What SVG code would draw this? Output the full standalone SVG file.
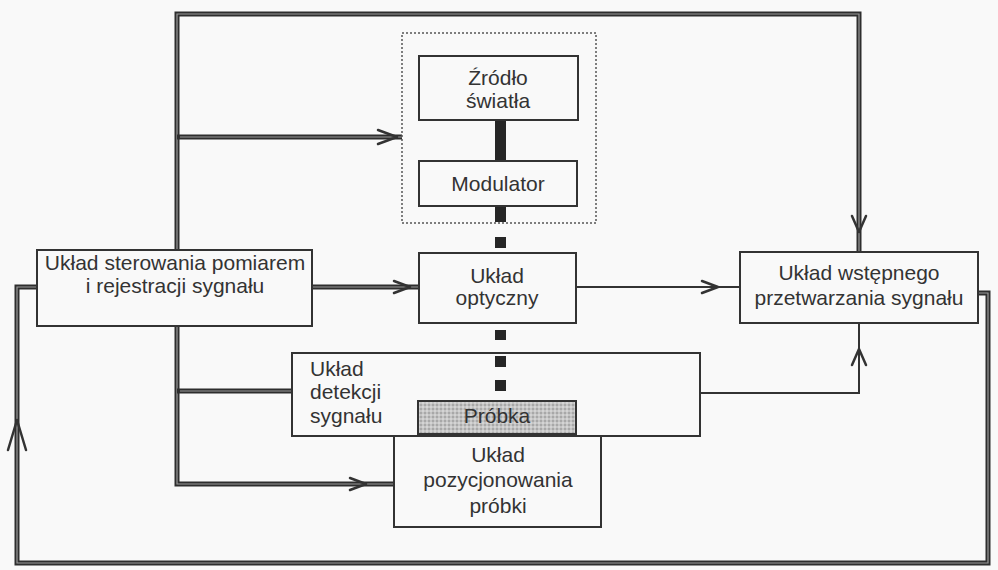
<svg xmlns="http://www.w3.org/2000/svg" width="998" height="570" viewBox="0 0 998 570">
<style>
.box{fill:none;stroke:#333;stroke-width:2}
.dash{fill:none;stroke:#555;stroke-width:1.5;stroke-dasharray:2 2}
.t{font-family:"Liberation Sans",Arial,sans-serif;font-size:21px;fill:#333;text-anchor:middle}
.tl{font-family:"Liberation Sans",Arial,sans-serif;font-size:21px;fill:#333;text-anchor:start}
.dbl{fill:none;stroke:#2e2e2e;stroke-width:5}
.dblin{fill:none;stroke:#9a9a9a;stroke-width:1.2}
.thin{fill:none;stroke:#333;stroke-width:2}
.arr{fill:none;stroke:#333;stroke-width:2.5;stroke-linecap:round;stroke-linejoin:round}
.blk{fill:#262626}
</style>
<defs>
<pattern id="dots" width="4" height="4" patternUnits="userSpaceOnUse">
<rect width="4" height="4" fill="#c4c4c4"/>
<rect width="2" height="2" fill="#a8a8a8"/>
<rect x="2" y="2" width="2" height="2" fill="#d4d4d4"/>
</pattern>
</defs>
<rect width="998" height="570" fill="#f9f9f9"/>
<g id="connectors">
<path class="dbl" d="M177,250 V14 H859 V252"/>
<path class="dblin" d="M177,250 V14 H859 V252"/>
<path class="dbl" d="M177,137 H402"/>
<path class="dblin" d="M180,137 H402"/>
<path class="dbl" d="M978,293 H988 V563 H17 V287 H37"/>
<path class="dblin" d="M978,293 H988 V563 H17 V287 H37"/>
<path class="dbl" d="M312,287 H419"/>
<path class="dblin" d="M312,287 H419"/>
<path class="dbl" d="M177,326 V484 H394"/>
<path class="dblin" d="M177,326 V484 H394"/>
<path class="dbl" d="M177,391 H292"/>
<path class="dblin" d="M180,391 H292"/>
<path class="thin" d="M576,287 H740"/>
<path class="thin" d="M700,393 H859 V323"/>
<path class="arr" d="M378,130 L397,137 L378,144"/>
<path class="arr" d="M394,281 L410,287 L394,293"/>
<path class="arr" d="M702,281 L718,287 L702,293"/>
<path class="arr" d="M852,216 L859,232 L866,216"/>
<path class="arr" d="M852,365 L859,349 L866,365"/>
<path class="arr" d="M8,450 L17,420 L26,450"/>
<path class="arr" d="M350,478 L366,484 L350,490"/>
<rect class="blk" x="495" y="120" width="11" height="41"/>
<rect class="blk" x="495" y="206" width="11" height="16"/>
<rect class="blk" x="495" y="237" width="11" height="11"/>
<rect class="blk" x="495" y="330" width="11" height="10"/>
<rect class="blk" x="495" y="356" width="11" height="11"/>
<rect class="blk" x="495" y="380" width="11" height="11"/>
</g>
<g id="dashed-group"><rect class="dash" x="402" y="33" width="194" height="190"/></g>
<g id="zrodlo">
<rect class="box" x="419" y="56" width="159" height="64"/>
<text class="t" x="498" y="85">Źródło</text>
<text class="t" x="498" y="108">światła</text>
</g>
<g id="modulator">
<rect class="box" x="419" y="161" width="158" height="45"/>
<text class="t" x="498" y="191">Modulator</text>
</g>
<g id="optyczny">
<rect class="box" x="419" y="253" width="157" height="70"/>
<text class="t" x="497" y="283">Układ</text>
<text class="t" x="497" y="305">optyczny</text>
</g>
<g id="sterowanie">
<rect class="box" x="37" y="250" width="275" height="76"/>
<text class="t" x="175" y="270">Układ sterowania pomiarem</text>
<text class="t" x="175" y="293">i rejestracji sygnału</text>
</g>
<g id="wstepny">
<rect class="box" x="740" y="252" width="238" height="71"/>
<text class="t" x="859" y="280">Układ wstępnego</text>
<text class="t" x="859" y="305">przetwarzania sygnału</text>
</g>
<g id="detekcja">
<rect class="box" x="292" y="353" width="408" height="83"/>
<text class="tl" x="310" y="376">Układ</text>
<text class="tl" x="310" y="399">detekcji</text>
<text class="tl" x="310" y="423">sygnału</text>
</g>
<g id="probka">
<rect x="418" y="401" width="158" height="33" fill="url(#dots)" stroke="#333" stroke-width="2"/>
<text class="t" x="497" y="423">Próbka</text>
</g>
<g id="pozycjonowanie">
<rect class="box" x="394" y="436" width="207" height="91" fill="#f9f9f9"/>
<text class="t" x="498" y="462">Układ</text>
<text class="t" x="498" y="487">pozycjonowania</text>
<text class="t" x="498" y="513">próbki</text>
</g>
</svg>
